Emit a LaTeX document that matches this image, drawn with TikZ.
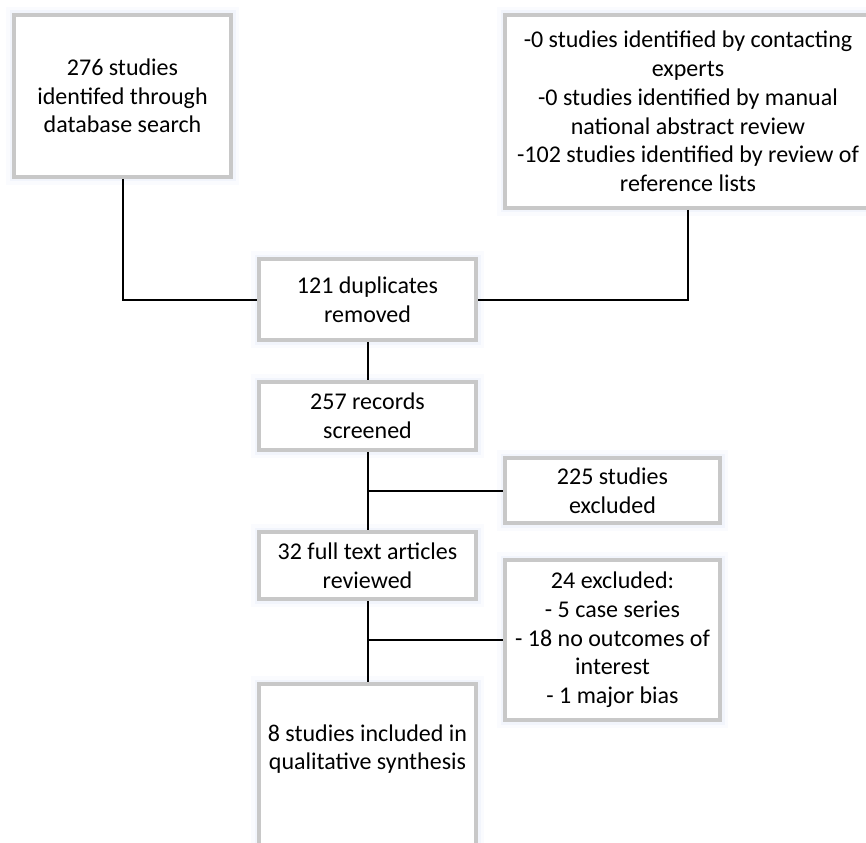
\documentclass[tikz,border=0pt]{standalone}
\usepackage{fontspec}
\setmainfont{Carlito}
\definecolor{boxgray}{RGB}{200,200,200}
\definecolor{glowA}{RGB}{250,251,254}
\definecolor{glowB}{RGB}{242,245,252}
\begin{document}
\begin{tikzpicture}[x=1pt,y=1pt,
  box/.style={draw=boxgray, line width=4pt, fill=white, inner sep=0pt,
    align=center, font=\fontsize{24}{28.7}\selectfont,
    preaction={draw=glowA, line width=16pt},
    preaction={draw=glowB, line width=9pt}},
  txt/.style={inner sep=0pt, align=center, font=\fontsize{24}{28.7}\selectfont},
  conn/.style={draw=black, line width=2pt}]
\useasboundingbox[fill=white] (0,0) rectangle (866,-842);
\node[box, minimum width=217pt, minimum height=162pt] (A) at (122.5,-96)
  {276 studies\\ identifed through\\ database search};
\node[box, minimum width=366pt, minimum height=193pt] (B) at (688,-111.5)
  {-0 studies identified by contacting\\ experts\\ -0 studies identified by manual\\ national abstract review\\ -102 studies identified by review of\\ reference lists};
\node[box, minimum width=217pt, minimum height=81pt] (C) at (367.5,-299.5)
  {121 duplicates\\ removed};
\node[box, minimum width=217pt, minimum height=68pt] (D) at (367.5,-416)
  {257 records\\ screened};
\node[box, minimum width=215pt, minimum height=65pt] (E) at (612.5,-490.5)
  {225 studies\\ excluded};
\node[box, minimum width=217pt, minimum height=67pt] (F) at (367.5,-565.5)
  {32 full text articles\\ reviewed};
\node[box, minimum width=215pt, minimum height=160pt] (G) at (612.5,-640)
  {24 excluded:\\ - 5 case series\\ - 18 no outcomes of\\ interest\\ - 1 major bias};
\node[box, minimum width=217pt, minimum height=214pt] (H) at (367.5,-791) {};
\node[txt] (Ht) at (367.5,-749) {8 studies included in\\ qualitative synthesis};
\draw[conn] (A.south) |- (C.west);
\draw[conn] (B.south) |- (C.east);
\draw[conn] (C.south) -- (D.north);
\draw[conn] (D.south) -- (F.north);
\coordinate (j1) at (D.south |- E.west);
\draw[conn] (j1) -- (E.west);
\draw[conn] (F.south) -- (H.north);
\coordinate (j2) at (F.south |- G.west);
\draw[conn] (j2) -- (G.west);
\end{tikzpicture}
\end{document}
